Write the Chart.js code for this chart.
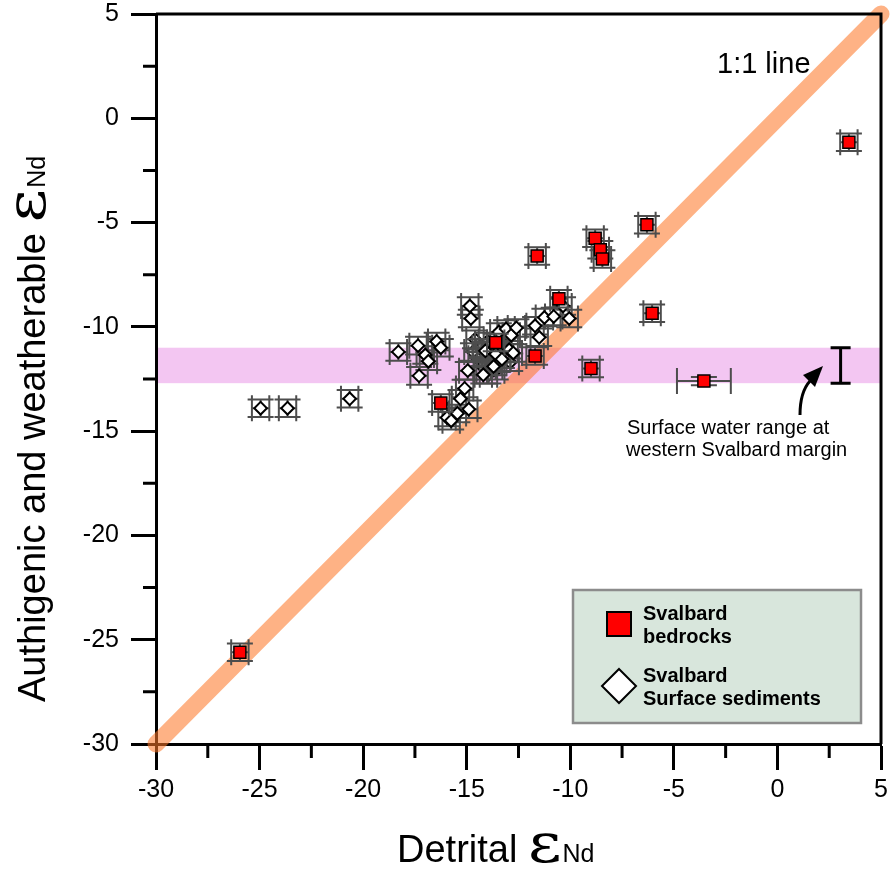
<!DOCTYPE html>
<html><head><meta charset="utf-8">
<script src="https://cdn.jsdelivr.net/npm/chart.js@4"></script>
<style>html,body{margin:0;padding:0;background:#fff;}#wrap{width:893px;height:882px;position:relative;}</style>
</head><body><div id="wrap"><canvas id="c" width="893" height="882"></canvas></div>
<script>
// ---------- data ----------
const xTicks = [-30, -25, -20, -15, -10, -5, 0, 5];
const yTicks = [-30, -25, -20, -15, -10, -5, 0, 5];
const xMinorTicks = [-27.5, -22.5, -17.5, -12.5, -7.5, -2.5, 2.5];
const yMinorTicks = [-27.5, -22.5, -17.5, -12.5, -7.5, -2.5, 2.5];

const bedrockX    = [3.45, -6.3, -8.8, -8.55, -8.45, -11.6, -10.55, -6.05, -13.6, -11.7, -9.0, -16.25, -3.55, -25.95];
const bedrockY    = [-1.15, -5.1, -5.75, -6.3, -6.75, -6.6, -8.65, -9.35, -10.75, -11.4, -12.0, -13.65, -12.6, -25.6];
const bedrockXErr = [0.42, 0.42, 0.42, 0.42, 0.42, 0.42, 0.42, 0.42, 0.42, 0.42, 0.42, 0.42, 1.3, 0.42];
const bedrockYErr = [0.42, 0.42, 0.42, 0.42, 0.42, 0.42, 0.42, 0.42, 0.42, 0.42, 0.42, 0.42, 0.2, 0.42];

// surface sediments whose markers sit under the dense cluster
const surfaceBackX = [-14.6, -14.3, -14.5, -14.0, -13.8, -14.25, -13.5, -13.25, -13.95, -12.9, -14.7, -13.6];
const surfaceBackY = [-10.6, -11.0, -11.5, -10.7, -11.45, -11.9, -11.75, -10.75, -12.3, -11.7, -11.2, -12.1];

const surfaceX = [-24.95, -23.65, -20.65, -18.3, -17.35, -17.0, -16.85, -16.45, -16.25, -17.3,
                  -14.85, -14.8, -14.95, -14.2, -15.1, -15.3, -14.9, -15.45, -15.95, -15.75,
                  -13.7, -14.1, -13.6, -13.3, -12.95, -12.75, -13.45, -13.1, -12.85, -12.6,
                  -11.7, -11.5, -11.25, -10.8, -10.35, -10.05];
const surfaceY = [-13.9, -13.9, -13.45, -11.2, -10.9, -11.35, -11.65, -10.7, -11.0, -12.35,
                  -9.0, -9.6, -12.1, -12.3, -12.95, -13.45, -13.95, -14.15, -14.35, -14.5,
                  -11.9, -11.15, -11.3, -11.55, -11.1, -11.25, -10.25, -10.1, -10.4, -10.05,
                  -9.95, -10.5, -9.55, -9.5, -9.0, -9.6];
const surfaceErr = 0.42;

const oneToOneLine = [-30, 5];
const surfaceWaterRange = [-11, -12.7];
const surfaceWaterX = 3.05;

const legendBedrock = ['Svalbard', 'bedrocks'];
const legendSurface = ['Svalbard', 'Surface sediments'];
const SANS = '"Liberation Sans", Arial, sans-serif';

function pts(xs, ys, xe, ye) {
  return xs.map((x, i) => ({
    x: x, y: ys[i],
    xe: Array.isArray(xe) ? xe[i] : xe,
    ye: Array.isArray(ye) ? ye[i] : ye
  }));
}

function drawErr(chart, ds) {
  const xs = chart.scales.x, ys = chart.scales.y, ctx = chart.ctx;
  const c = 13;
  ctx.save();
  ctx.strokeStyle = '#4d4d4d';
  ctx.lineWidth = 2;
  ds.data.forEach(p => {
    const cx = xs.getPixelForValue(p.x), cy = ys.getPixelForValue(p.y);
    const x0 = xs.getPixelForValue(p.x - p.xe), x1 = xs.getPixelForValue(p.x + p.xe);
    const y0 = ys.getPixelForValue(p.y - p.ye), y1 = ys.getPixelForValue(p.y + p.ye);
    ctx.beginPath();
    ctx.moveTo(x0, cy); ctx.lineTo(x1, cy);
    ctx.moveTo(x0, cy - c); ctx.lineTo(x0, cy + c);
    ctx.moveTo(x1, cy - c); ctx.lineTo(x1, cy + c);
    ctx.moveTo(cx, y0); ctx.lineTo(cx, y1);
    ctx.moveTo(cx - c, y0); ctx.lineTo(cx + c, y0);
    ctx.moveTo(cx - c, y1); ctx.lineTo(cx + c, y1);
    ctx.stroke();
  });
  ctx.restore();
}

const errorBarPlugin = {
  id: 'errorBars',
  beforeDatasetDraw(chart, args) {
    const ds = chart.data.datasets[args.index];
    if (ds.errorBars === 'below') drawErr(chart, ds);
  },
  afterDatasetDraw(chart, args) {
    const ds = chart.data.datasets[args.index];
    if (ds.errorBars === 'above') drawErr(chart, ds);
  }
};

const bandPlugin = {
  id: 'band',
  beforeDatasetsDraw(chart) {
    const ctx = chart.ctx, a = chart.chartArea, ys = chart.scales.y;
    const t = ys.getPixelForValue(surfaceWaterRange[0]);
    const b = ys.getPixelForValue(surfaceWaterRange[1]);
    ctx.save();
    ctx.fillStyle = '#F3C6F2';
    ctx.fillRect(a.left + 2, t, a.right - a.left - 2, b - t);
    ctx.restore();
  },
  afterDatasetsDraw(chart) {
    const ctx = chart.ctx, xs = chart.scales.x, ys = chart.scales.y;
    const x = xs.getPixelForValue(surfaceWaterX);
    const t = ys.getPixelForValue(surfaceWaterRange[0]);
    const b = ys.getPixelForValue(surfaceWaterRange[1]);
    ctx.save();
    ctx.strokeStyle = '#000'; ctx.lineWidth = 3;
    ctx.beginPath();
    ctx.moveTo(x, t); ctx.lineTo(x, b);
    ctx.moveTo(x - 10, t); ctx.lineTo(x + 10, t);
    ctx.moveTo(x - 10, b); ctx.lineTo(x + 10, b);
    ctx.stroke();
    ctx.restore();
  }
};

function drawTitle(ctx, prefix, x, y) {
  ctx.font = '38px ' + SANS;
  ctx.fillText(prefix, x, y);
  x += ctx.measureText(prefix).width;
  ctx.save();
  ctx.font = '54px "DejaVu Serif"';
  ctx.translate(x, y);
  ctx.scale(1.2, 1);
  ctx.fillText('\u03B5', 0, 0);
  const w = ctx.measureText('\u03B5').width * 1.2;
  ctx.restore();
  x += w + 1;
  ctx.font = '25px ' + SANS;
  ctx.fillText('Nd', x, y);
}

const decorPlugin = {
  id: 'decor',
  afterDraw(chart) {
    const ctx = chart.ctx, a = chart.chartArea, xs = chart.scales.x, ys = chart.scales.y;
    ctx.save();
    // frame top + right
    ctx.strokeStyle = '#000'; ctx.lineWidth = 3; ctx.lineCap = 'butt';
    ctx.beginPath();
    ctx.moveTo(a.left, a.top); ctx.lineTo(a.right, a.top);
    ctx.moveTo(a.right, a.top - 1.5); ctx.lineTo(a.right, a.bottom);
    ctx.stroke();
    // minor ticks
    ctx.beginPath();
    xMinorTicks.forEach(v => { const p = xs.getPixelForValue(v); ctx.moveTo(p, a.bottom); ctx.lineTo(p, a.bottom + 14); });
    yMinorTicks.forEach(v => { const p = ys.getPixelForValue(v); ctx.moveTo(a.left - 13, p); ctx.lineTo(a.left, p); });
    ctx.stroke();

    // texts
    ctx.fillStyle = '#000';
    ctx.textBaseline = 'alphabetic';
    ctx.textAlign = 'left';
    ctx.font = '29px ' + SANS;
    ctx.fillText('1:1 line', 717, 73);
    ctx.font = '20px ' + SANS;
    ctx.fillText('Surface water range at', 627, 434);
    ctx.fillText('western Svalbard margin', 626, 456);

    // arrow
    ctx.lineWidth = 3;
    ctx.beginPath();
    ctx.moveTo(800, 415);
    ctx.quadraticCurveTo(800, 392, 810, 381);
    ctx.stroke();
    ctx.beginPath();
    ctx.moveTo(823, 366);
    ctx.lineTo(815, 387);
    ctx.lineTo(803, 375);
    ctx.closePath();
    ctx.fill();

    // axis titles
    drawTitle(ctx, 'Detrital ', 397, 862);
    ctx.save();
    ctx.translate(45, 702);
    ctx.rotate(-Math.PI / 2);
    drawTitle(ctx, 'Authigenic and weatherable ', 0, 0);
    ctx.restore();

    // legend
    ctx.fillStyle = '#D8E6DC';
    ctx.fillRect(573, 590, 288, 133);
    ctx.strokeStyle = '#8C8C8C'; ctx.lineWidth = 2.5;
    ctx.strokeRect(573, 590, 288, 133);
    ctx.fillStyle = '#FF0000';
    ctx.fillRect(607, 612, 24, 24);
    ctx.strokeStyle = '#000'; ctx.lineWidth = 2;
    ctx.strokeRect(607, 612, 24, 24);
    ctx.beginPath();
    ctx.moveTo(619, 669); ctx.lineTo(636, 686); ctx.lineTo(619, 703); ctx.lineTo(602, 686); ctx.closePath();
    ctx.fillStyle = '#fff'; ctx.fill(); ctx.stroke();
    ctx.fillStyle = '#000';
    ctx.font = 'bold 20px ' + SANS;
    ctx.fillText(legendBedrock[0], 643, 620);
    ctx.fillText(legendBedrock[1], 643, 643);
    ctx.fillText(legendSurface[0], 643, 682);
    ctx.fillText(legendSurface[1], 643, 705);
    ctx.restore();
  }
};

const tickFont = { family: SANS, size: 25 };

new Chart(document.getElementById('c'), {
  type: 'scatter',
  data: {
    datasets: [
      {
        label: 'Svalbard bedrocks',
        data: pts(bedrockX, bedrockY, bedrockXErr, bedrockYErr),
        pointStyle: 'rect', pointRadius: 8.5,
        backgroundColor: '#FF0000', borderColor: '#000', borderWidth: 1.5,
        errorBars: 'below', order: 1
      },
      {
        label: 'Svalbard Surface sediments',
        data: pts(surfaceX, surfaceY, surfaceErr, surfaceErr),
        pointStyle: 'rectRot', pointRadius: 6.3,
        backgroundColor: '#FFFFFF', borderColor: '#000', borderWidth: 2,
        errorBars: 'below', order: 2
      },
      {
        label: 'Svalbard Surface sediments (overlapped)',
        data: pts(surfaceBackX, surfaceBackY, surfaceErr, surfaceErr),
        pointStyle: 'rectRot', pointRadius: 6.3,
        backgroundColor: '#FFFFFF', borderColor: '#000', borderWidth: 2,
        errorBars: 'above', order: 3
      },
      {
        label: '1:1 line',
        data: oneToOneLine.map(v => ({ x: v, y: v })),
        showLine: true, pointRadius: 0,
        borderColor: 'rgba(253,120,40,0.57)', borderWidth: 17,
        borderCapStyle: 'round', clip: false, order: 4
      }
    ]
  },
  options: {
    responsive: false,
    animation: false,
    devicePixelRatio: 1,
    events: [],
    layout: { padding: { left: 0, top: 14, right: 12, bottom: 0 } },
    plugins: { legend: { display: false }, tooltip: { enabled: false } },
    scales: {
      x: {
        type: 'linear', min: -30, max: 5, z: 1,
        afterBuildTicks: s => { s.ticks = xTicks.map(v => ({ value: v })); },
        afterFit: s => { s.height = 138; s.paddingLeft = 0; s.paddingRight = 0; },
        ticks: { font: tickFont, color: '#000', padding: 5, maxRotation: 0, autoSkip: false, callback: v => String(v) },
        grid: { drawOnChartArea: false, tickLength: 26, tickColor: '#000', tickWidth: 3 },
        border: { display: true, color: '#000', width: 3 }
      },
      y: {
        type: 'linear', min: -30, max: 5, z: 1,
        afterBuildTicks: s => { s.ticks = yTicks.map(v => ({ value: v })); },
        afterFit: s => { s.width = 156; s.paddingTop = 0; s.paddingBottom = 0; },
        ticks: { font: tickFont, color: '#000', padding: 12, autoSkip: false, callback: v => String(v) },
        grid: { drawOnChartArea: false, tickLength: 25, tickColor: '#000', tickWidth: 3 },
        border: { display: true, color: '#000', width: 3 }
      }
    }
  },
  plugins: [bandPlugin, errorBarPlugin, decorPlugin]
});
</script>
</body></html>
